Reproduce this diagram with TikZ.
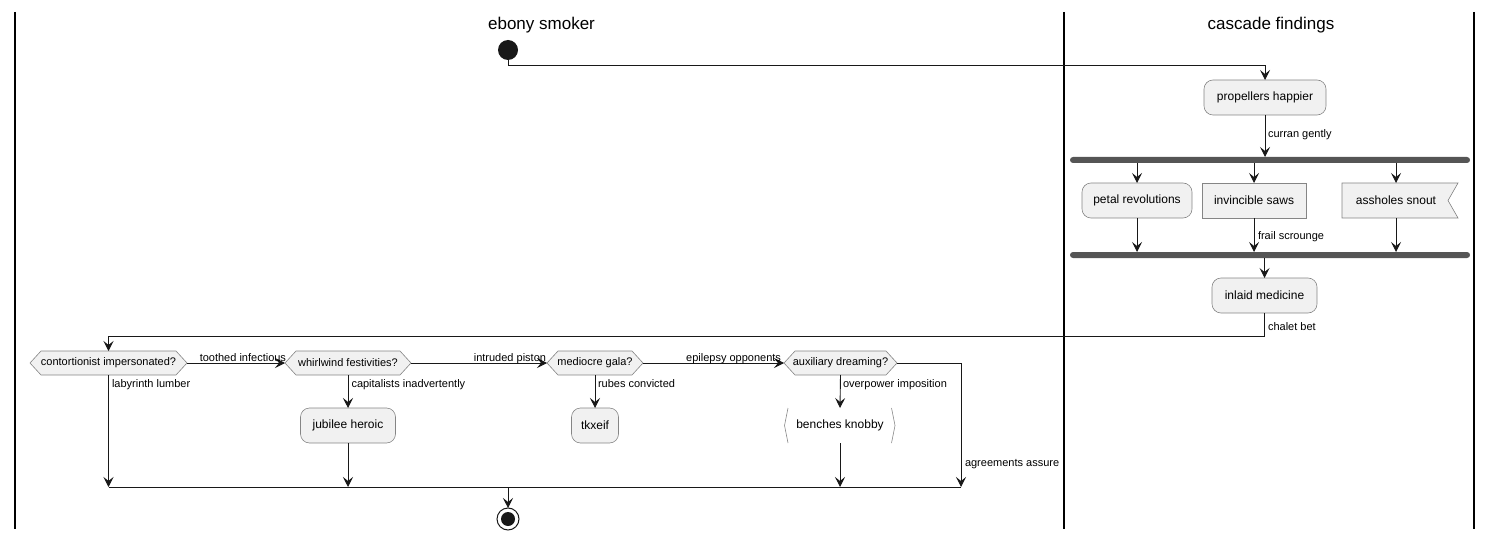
\documentclass[tikz,border=0pt]{standalone}
\usepackage{fontspec}
\setmainfont{Liberation Sans}
\usetikzlibrary{arrows.meta,calc}
\definecolor{nfill}{HTML}{F1F1F1}
\definecolor{nbord}{HTML}{858585}
\definecolor{lnc}{HTML}{181818}
\definecolor{barc}{HTML}{555555}
\newcommand\hexdec[5]{%
  \draw[decshape] (#2-#4,#3) -- (#2-#4+11,#3-12) -- (#2+#4-11,#3-12) -- (#2+#4,#3) -- (#2+#4-11,#3+12) -- (#2-#4+11,#3+12) -- cycle;
  \node[dectext, minimum width={2*#4pt}] (#1) at (#2,#3) {#5};}
\begin{document}
\begin{tikzpicture}[x=1pt,y=-1pt,
  every node/.style={inner sep=0pt, outer sep=0pt},
  act/.style={draw=nbord, fill=nfill, rounded corners=9pt, minimum height=35pt, font=\fontsize{12}{14}\selectfont, line width=0.6pt},
  boxact/.style={draw=nbord, fill=nfill, minimum height=35pt, font=\fontsize{12}{14}\selectfont, line width=0.6pt},
  plaintext/.style={minimum height=35pt, font=\fontsize{12}{14}\selectfont},
  dectext/.style={minimum height=24pt, font=\fontsize{11}{13}\selectfont},
  decshape/.style={draw=nbord, fill=nfill, line width=0.6pt},
  lbl/.style={font=\fontsize{11}{13}\selectfont},
  flow/.style={draw=lnc, line width=0.9pt, -{Stealth[length=10pt,width=10pt,inset=4pt]}},
  plain/.style={draw=lnc, line width=0.9pt},
  lane/.style={draw=black, line width=1.3pt},
  barnode/.style={fill=barc, rounded corners=3pt, minimum height=6pt, minimum width=400pt},
  title/.style={font=\fontsize{17}{20}\selectfont}
]
\useasboundingbox (0,0) rectangle (1493,540);
% lanes
\draw[lane] (15,12) -- (15,529);
\draw[lane] (1064,12) -- (1064,529);
\draw[lane] (1474,12) -- (1474,529);
\node[title] (t1) at (541.5,25) {ebony smoker};
\node[title] (t2) at (1271,25) {cascade findings};

% start
\node[circle, fill=lnc, minimum size=20pt] (start) at (508,50) {};

% right lane
\node[act, minimum width=122pt] (prop) at (1265,97.5) {propellers happier};
\node[barnode] (fork) at (1270,160) {};
\node[act, minimum width=110pt] (petal) at (1137,200.5) {petal revolutions};
\node[boxact, minimum width=104pt] (saws) at (1254,200.5) {invincible saws};
\draw[decshape] (1342,183) -- (1458,183) -- (1448,200.5) -- (1458,218) -- (1342,218) -- cycle;
\node[plaintext, minimum width=108pt] (snout) at (1396,200.5) {assholes snout};
\node[barnode] (join) at (1270,255) {};
\node[act, minimum width=105pt] (inlaid) at (1264.5,295.5) {inlaid medicine};

% decisions
\hexdec{cont}{108.5}{363}{78.5}{contortionist impersonated?}
\hexdec{whirl}{348}{363}{63}{whirlwind festivities?}
\hexdec{gala}{595}{363}{48}{mediocre gala?}
\hexdec{aux}{840.5}{363}{56.5}{auxiliary dreaming?}

\node[act, minimum width=95pt] (jub) at (348,425.5) {jubilee heroic};
\node[act, minimum width=47pt] (tkx) at (595,425.5) {tkxeif};
\node[plaintext, minimum width=111pt] (bench) at (840,425.5) {benches knobby};
\draw[nbord, line width=0.6pt] (788,408) -- (784.5,425.5) -- (788,443);
\draw[nbord, line width=0.6pt] (891.5,408) -- (895,425.5) -- (891.5,443);

% end
\node[circle, draw=lnc, line width=1pt, minimum size=22pt] (end) at (508,519) {};
\node[circle, fill=lnc, minimum size=14pt] (endin) at (508,519) {};

\coordinate (mL) at (108.5,487);
\coordinate (mR) at (961,487);
\coordinate (mC) at (508,487);

% connectors
\draw[flow] (start.south) -- ++(0,5) -| (prop.north);
\draw[flow] (prop.south) -- (prop.south |- fork.north);
\draw[flow] (fork.south -| petal) -- (petal.north);
\draw[flow] (fork.south -| saws) -- (saws.north);
\draw[flow] (fork.south -| snout) -- (snout.north);
\draw[flow] (petal.south) -- (petal.south |- join.north);
\draw[flow] (saws.south) -- (saws.south |- join.north);
\draw[flow] (snout.south) -- (snout.south |- join.north);
\draw[flow] (join.south -| inlaid) -- (inlaid.north);
\draw[flow] (inlaid.south) -- ++(0,23) -| (cont.north);
\draw[flow] (cont.east) -- (whirl.west);
\draw[flow] (whirl.east) -- (gala.west);
\draw[flow] (gala.east) -- (aux.west);
\draw[flow] (whirl.south) -- (jub.north);
\draw[flow] (gala.south) -- (tkx.north);
\draw[flow] (aux.south) -- (bench.north);
\draw[plain] (mL) -- (mR);
\draw[flow] (cont.south) -- (mL);
\draw[flow] (jub.south) -- (jub.south |- mL);
\draw[flow] (bench.south) -- (bench.south |- mL);
\draw[flow] (aux.east) -| (mR);
\draw[flow] (mC) -- (end.north);

% labels
\node[lbl, anchor=base west] (l1) at (1268,138) {curran gently};
\node[lbl, anchor=base west] (l2) at (1258,240) {frail scrounge};
\node[lbl, anchor=base west] (l3) at (1268,330) {chalet bet};
\node[lbl, anchor=base west] (l4) at (112,387) {labyrinth lumber};
\node[lbl, anchor=base west] (l5) at (351.5,387) {capitalists inadvertently};
\node[lbl, anchor=base west] (l6) at (598,387) {rubes convicted};
\node[lbl, anchor=base west] (l7) at (843,387) {overpower imposition};
\node[lbl, anchor=base west] (l8) at (965,466) {agreements assure};
\node[lbl, anchor=base east] (l9) at (286,361) {toothed infectious};
\node[lbl, anchor=base east] (l10) at (546,361) {intruded piston};
\node[lbl, anchor=base east] (l11) at (781,361) {epilepsy opponents};
\end{tikzpicture}
\end{document}
